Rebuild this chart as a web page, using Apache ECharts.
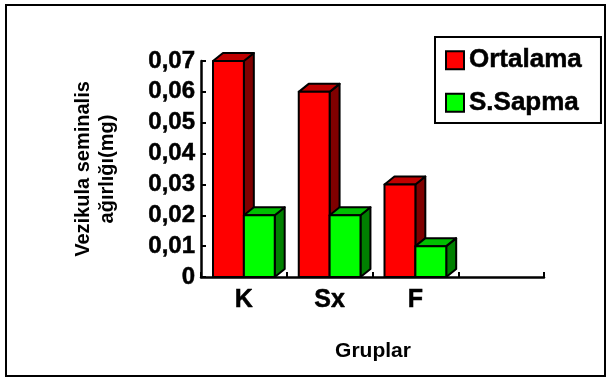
<!DOCTYPE html>
<html>
<head>
<meta charset="utf-8">
<script src="https://cdn.jsdelivr.net/npm/echarts@6/dist/echarts.min.js"></script>
<style>
  html, body { margin: 0; padding: 0; background: #fff; }
  #chart { width: 608px; height: 379px; }
</style>
</head>
<body>
<div id="chart"></div>
<script>
// Groups and their values
var groups = ['K', 'Sx', 'F', ''];
var ortalama = [0.07, 0.06, 0.03];
var sSapma = [0.02, 0.02, 0.01];
var seriesNames = ['Ortalama', 'S.Sapma'];
var yTicks = { min: 0, max: 0.07, step: 0.01 };

var FONT = '"Liberation Sans", Arial, sans-serif';

// Draws one 3D block: front face, top face and right side face.
function blockRenderer(colors, placeLeft) {
  return function (params, api) {
    var cat = api.value(0);
    var val = api.value(1);
    var base = api.coord([cat, 0]);
    var top = api.coord([cat, val]);
    var band = api.size([1, 0])[0];
    var w = band * 0.36;
    var dx = band * 0.116;
    var dy = 8;
    var x0 = placeLeft ? base[0] - w : base[0];
    var x1 = x0 + w;
    var y0 = base[1];
    var y1 = top[1];
    var line = { stroke: '#000', lineWidth: 2, lineJoin: 'round' };
    return {
      type: 'group',
      children: [
        {
          type: 'polygon',
          shape: { points: [[x1, y0], [x1 + dx, y0 - dy], [x1 + dx, y1 - dy], [x1, y1]] },
          style: Object.assign({ fill: colors.side }, line)
        },
        {
          type: 'polygon',
          shape: { points: [[x0, y1], [x0 + dx, y1 - dy], [x1 + dx, y1 - dy], [x1, y1]] },
          style: Object.assign({ fill: colors.top }, line)
        },
        {
          type: 'rect',
          shape: { x: x0, y: y1, width: w, height: y0 - y1 },
          style: Object.assign({ fill: colors.front }, line)
        }
      ]
    };
  };
}

var red = { front: '#ff0000', top: '#c00000', side: '#800000' };
var green = { front: '#00ff00', top: '#00c000', side: '#008000' };

function toPairs(arr) {
  return arr.map(function (v, i) { return [i, v]; });
}

var chart = echarts.init(document.getElementById('chart'), null, { renderer: 'canvas' });

chart.setOption({
  backgroundColor: '#ffffff',
  animation: false,
  grid: { left: 201, right: 64, top: 61, bottom: 102, containLabel: false },
  legend: {
    orient: 'vertical',
    left: 435,
    top: 37,
    padding: [10, 19, 7, 10],
    itemGap: 16,
    itemWidth: 18,
    itemHeight: 18,
    borderColor: '#000',
    borderWidth: 2,
    textStyle: {
      fontFamily: FONT, fontWeight: 'bold', fontSize: 26, color: '#000', lineHeight: 26,
      textBorderColor: '#000', textBorderWidth: 0.5
    },
    data: [
      { name: seriesNames[0], icon: 'rect', itemStyle: { color: red.front, borderColor: '#000', borderWidth: 2 } },
      { name: seriesNames[1], icon: 'rect', itemStyle: { color: green.front, borderColor: '#000', borderWidth: 2 } }
    ]
  },
  xAxis: {
    type: 'category',
    data: groups,
    boundaryGap: true,
    axisLine: { show: true, lineStyle: { color: '#000', width: 2.5 } },
    axisTick: { show: true, inside: true, length: 5, lineStyle: { color: '#000', width: 2 } },
    axisLabel: {
      margin: 11, fontFamily: FONT, fontWeight: 'bold', fontSize: 25, color: '#000',
      textBorderColor: '#000', textBorderWidth: 0.5
    },
    splitLine: { show: false }
  },
  yAxis: {
    type: 'value',
    min: yTicks.min,
    max: yTicks.max,
    interval: yTicks.step,
    axisLine: { show: true, lineStyle: { color: '#000', width: 2.5 } },
    axisTick: { show: true, inside: true, length: 5, lineStyle: { color: '#000', width: 2 } },
    axisLabel: {
      margin: 6,
      fontFamily: FONT,
      fontWeight: 'bold',
      fontSize: 24,
      color: '#000',
      textBorderColor: '#000',
      textBorderWidth: 0.5,
      formatter: function (v) {
        return v === 0 ? '0' : v.toFixed(2).replace('.', ',');
      }
    },
    splitLine: { show: false }
  },
  series: [
    {
      name: seriesNames[0],
      type: 'custom',
      itemStyle: { color: red.front },
      renderItem: blockRenderer(red, true),
      encode: { x: 0, y: 1 },
      data: toPairs(ortalama)
    },
    {
      name: seriesNames[1],
      type: 'custom',
      itemStyle: { color: green.front },
      renderItem: blockRenderer(green, false),
      encode: { x: 0, y: 1 },
      data: toPairs(sSapma)
    }
  ],
  graphic: [
    {
      type: 'rect',
      shape: { x: 6, y: 5, width: 599, height: 371 },
      style: { fill: 'none', stroke: '#000', lineWidth: 2 },
      z: 100
    },
    {
      type: 'text',
      x: 95,
      y: 169,
      rotation: Math.PI / 2,
      style: {
        text: 'Vezikula seminalis\nağırlığı(mg)',
        align: 'center',
        verticalAlign: 'middle',
        font: 'bold 20px "Liberation Sans", Arial, sans-serif',
        lineHeight: 24,
        fill: '#000'
      }
    },
    {
      type: 'text',
      x: 373,
      y: 351,
      style: {
        text: 'Gruplar',
        align: 'center',
        verticalAlign: 'middle',
        font: 'bold 21px "Liberation Sans", Arial, sans-serif',
        fill: '#000'
      }
    }
  ]
});
</script>
</body>
</html>
